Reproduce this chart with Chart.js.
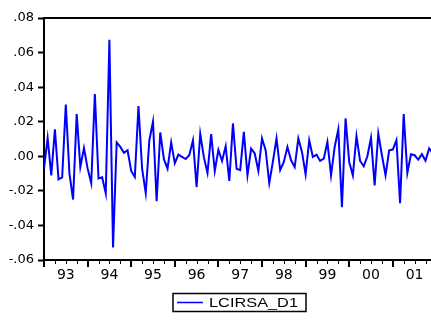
<!DOCTYPE html>
<html>
<head>
<meta charset="utf-8">
<script src="https://cdn.jsdelivr.net/npm/chart.js@4.4.1/dist/chart.umd.min.js"></script>
<style>
  html, body { margin: 0; padding: 0; background: #fff; overflow: hidden; }
  #wrap { position: relative; width: 431px; height: 320px; }
</style>
</head>
<body>
<div id="wrap"><canvas id="c" width="431" height="320"></canvas></div>
<script>
// ---- data (monthly, starting 1993M01) ----
const seriesName = 'LCIRSA_D1';
const startYear = 1993;
const values = [
  -0.007, 0.0106, -0.011, 0.0156, -0.0134, -0.0122, 0.030, -0.0099, -0.025, 0.0244, -0.0062, 0.0048,
  -0.007, -0.0155, 0.036, -0.0128, -0.0122, -0.0215, 0.0674, -0.0527, 0.008, 0.0054, 0.002, 0.0035,
  -0.0085, -0.012, 0.029, -0.0072, -0.0213, 0.0093, 0.020, -0.026, 0.0138, -0.0017, -0.0072, 0.008,
  -0.004, 0.001, -0.0004, -0.0016, 0.0008, 0.0093, -0.0178, 0.013, -0.0005, -0.0097, 0.0128, -0.0085,
  0.0037, -0.0027, 0.0058, -0.0143, 0.019, -0.0072, -0.008, 0.0141, -0.011, 0.0045, 0.0016, -0.0085,
  0.0103, 0.0035, -0.0155, -0.003, 0.0103, -0.008, -0.0033, 0.0054, -0.0023, -0.0062, 0.0103, 0.0025,
  -0.0105, 0.0093, -0.0004, 0.001, -0.0027, -0.0014, 0.0083, -0.011, 0.0054, 0.0155, -0.0294, 0.0219,
  -0.0033, -0.011, 0.0116, -0.0027, -0.0058, 0.0000, 0.0106, -0.0168, 0.0132, 0.0006, -0.011, 0.0035,
  0.0039, 0.0093, -0.0271, 0.0244, -0.0097, 0.0012, 0.0006, -0.0019, 0.0012, -0.0025, 0.0045, 0.0016
];
const yearLabels = ['93', '94', '95', '96', '97', '98', '99', '00', '01'];
const yTicks = [-0.06, -0.04, -0.02, 0.00, 0.02, 0.04, 0.06, 0.08];

const points = values.map((v, i) => ({ x: startYear + i / 12, y: v }));

function fmtY(v) {
  if (Math.abs(v) < 1e-9) return '.00';
  return v.toFixed(2).replace('0.', '.');
}

const FONT = '"DejaVu Sans", "Liberation Sans", Arial, sans-serif';
const LEGEND_FONT = '"Liberation Sans", Arial, sans-serif';

const frame = {
  id: 'frame',
  afterDraw(chart) {
    const ctx = chart.ctx, a = chart.chartArea, xs = chart.scales.x;
    ctx.save();
    // top frame line
    ctx.strokeStyle = '#000';
    ctx.lineWidth = 2;
    ctx.beginPath();
    ctx.moveTo(a.left, a.top);
    ctx.lineTo(a.right, a.top);
    ctx.stroke();
    // x tick marks: major at years, minor at quarters
    for (let q = 0; q <= 36; q++) {
      const v = startYear + q / 4;
      if (v > xs.max) break;
      const px = Math.round(xs.getPixelForValue(v));
      const major = q % 4 === 0;
      ctx.lineWidth = major ? 2 : 1;
      ctx.beginPath();
      ctx.moveTo(px + (major ? 0 : 0.5), a.bottom);
      ctx.lineTo(px + (major ? 0 : 0.5), a.bottom + (major ? 7 : 4));
      ctx.stroke();
    }
    // legend box
    const ds = chart.data.datasets[0];
    ctx.lineWidth = 1.5;
    ctx.strokeRect(173, 293.5, 133, 18);
    ctx.strokeStyle = ds.borderColor;
    ctx.lineWidth = 1.5;
    ctx.beginPath();
    ctx.moveTo(177, 302.5);
    ctx.lineTo(203, 302.5);
    ctx.stroke();
    ctx.fillStyle = '#000';
    ctx.font = '13px ' + LEGEND_FONT;
    ctx.textBaseline = 'middle';
    ctx.textAlign = 'left';
    const w = ctx.measureText(ds.label).width;
    const sx = 89 / w;
    ctx.translate(209, 303);
    ctx.scale(sx, 1);
    ctx.fillText(ds.label, 0, 0);
    ctx.restore();
  }
};

new Chart(document.getElementById('c'), {
  type: 'line',
  data: {
    datasets: [{
      label: seriesName,
      data: points,
      borderColor: '#0000FF',
      borderWidth: 2,
      pointRadius: 0,
      tension: 0,
      fill: false
    }]
  },
  options: {
    responsive: false,
    animation: false,
    devicePixelRatio: 1,
    layout: { padding: { top: 18, right: 0, left: 0, bottom: 0 } },
    plugins: { legend: { display: false }, tooltip: { enabled: false } },
    scales: {
      x: {
        type: 'linear',
        min: startYear,
        max: startYear + 8.876,
        afterBuildTicks(scale) {
          scale.ticks = yearLabels.map((_, i) => ({ value: startYear + i + 0.5 }));
        },
        afterFit(scale) { scale.height = 60; },
        ticks: {
          autoSkip: false,
          maxRotation: 0,
          padding: 7,
          color: '#000',
          font: { family: FONT, size: 14 },
          callback: (v) => yearLabels[Math.floor(v - startYear)]
        },
        grid: { display: true, drawOnChartArea: false, drawTicks: false },
        border: { display: true, color: '#000', width: 2 }
      },
      y: {
        min: -0.06,
        max: 0.08,
        afterBuildTicks(scale) {
          scale.ticks = yTicks.map(v => ({ value: v }));
        },
        afterFit(scale) { scale.width = 44; },
        ticks: {
          padding: 4,
          color: '#000',
          font: { family: FONT, size: 13 },
          callback: (v) => fmtY(v)
        },
        grid: { drawOnChartArea: false, drawTicks: true, tickLength: 6, tickColor: '#000', tickWidth: 2 },
        border: { display: true, color: '#000', width: 2 }
      }
    }
  },
  plugins: [frame]
});
</script>
</body>
</html>
